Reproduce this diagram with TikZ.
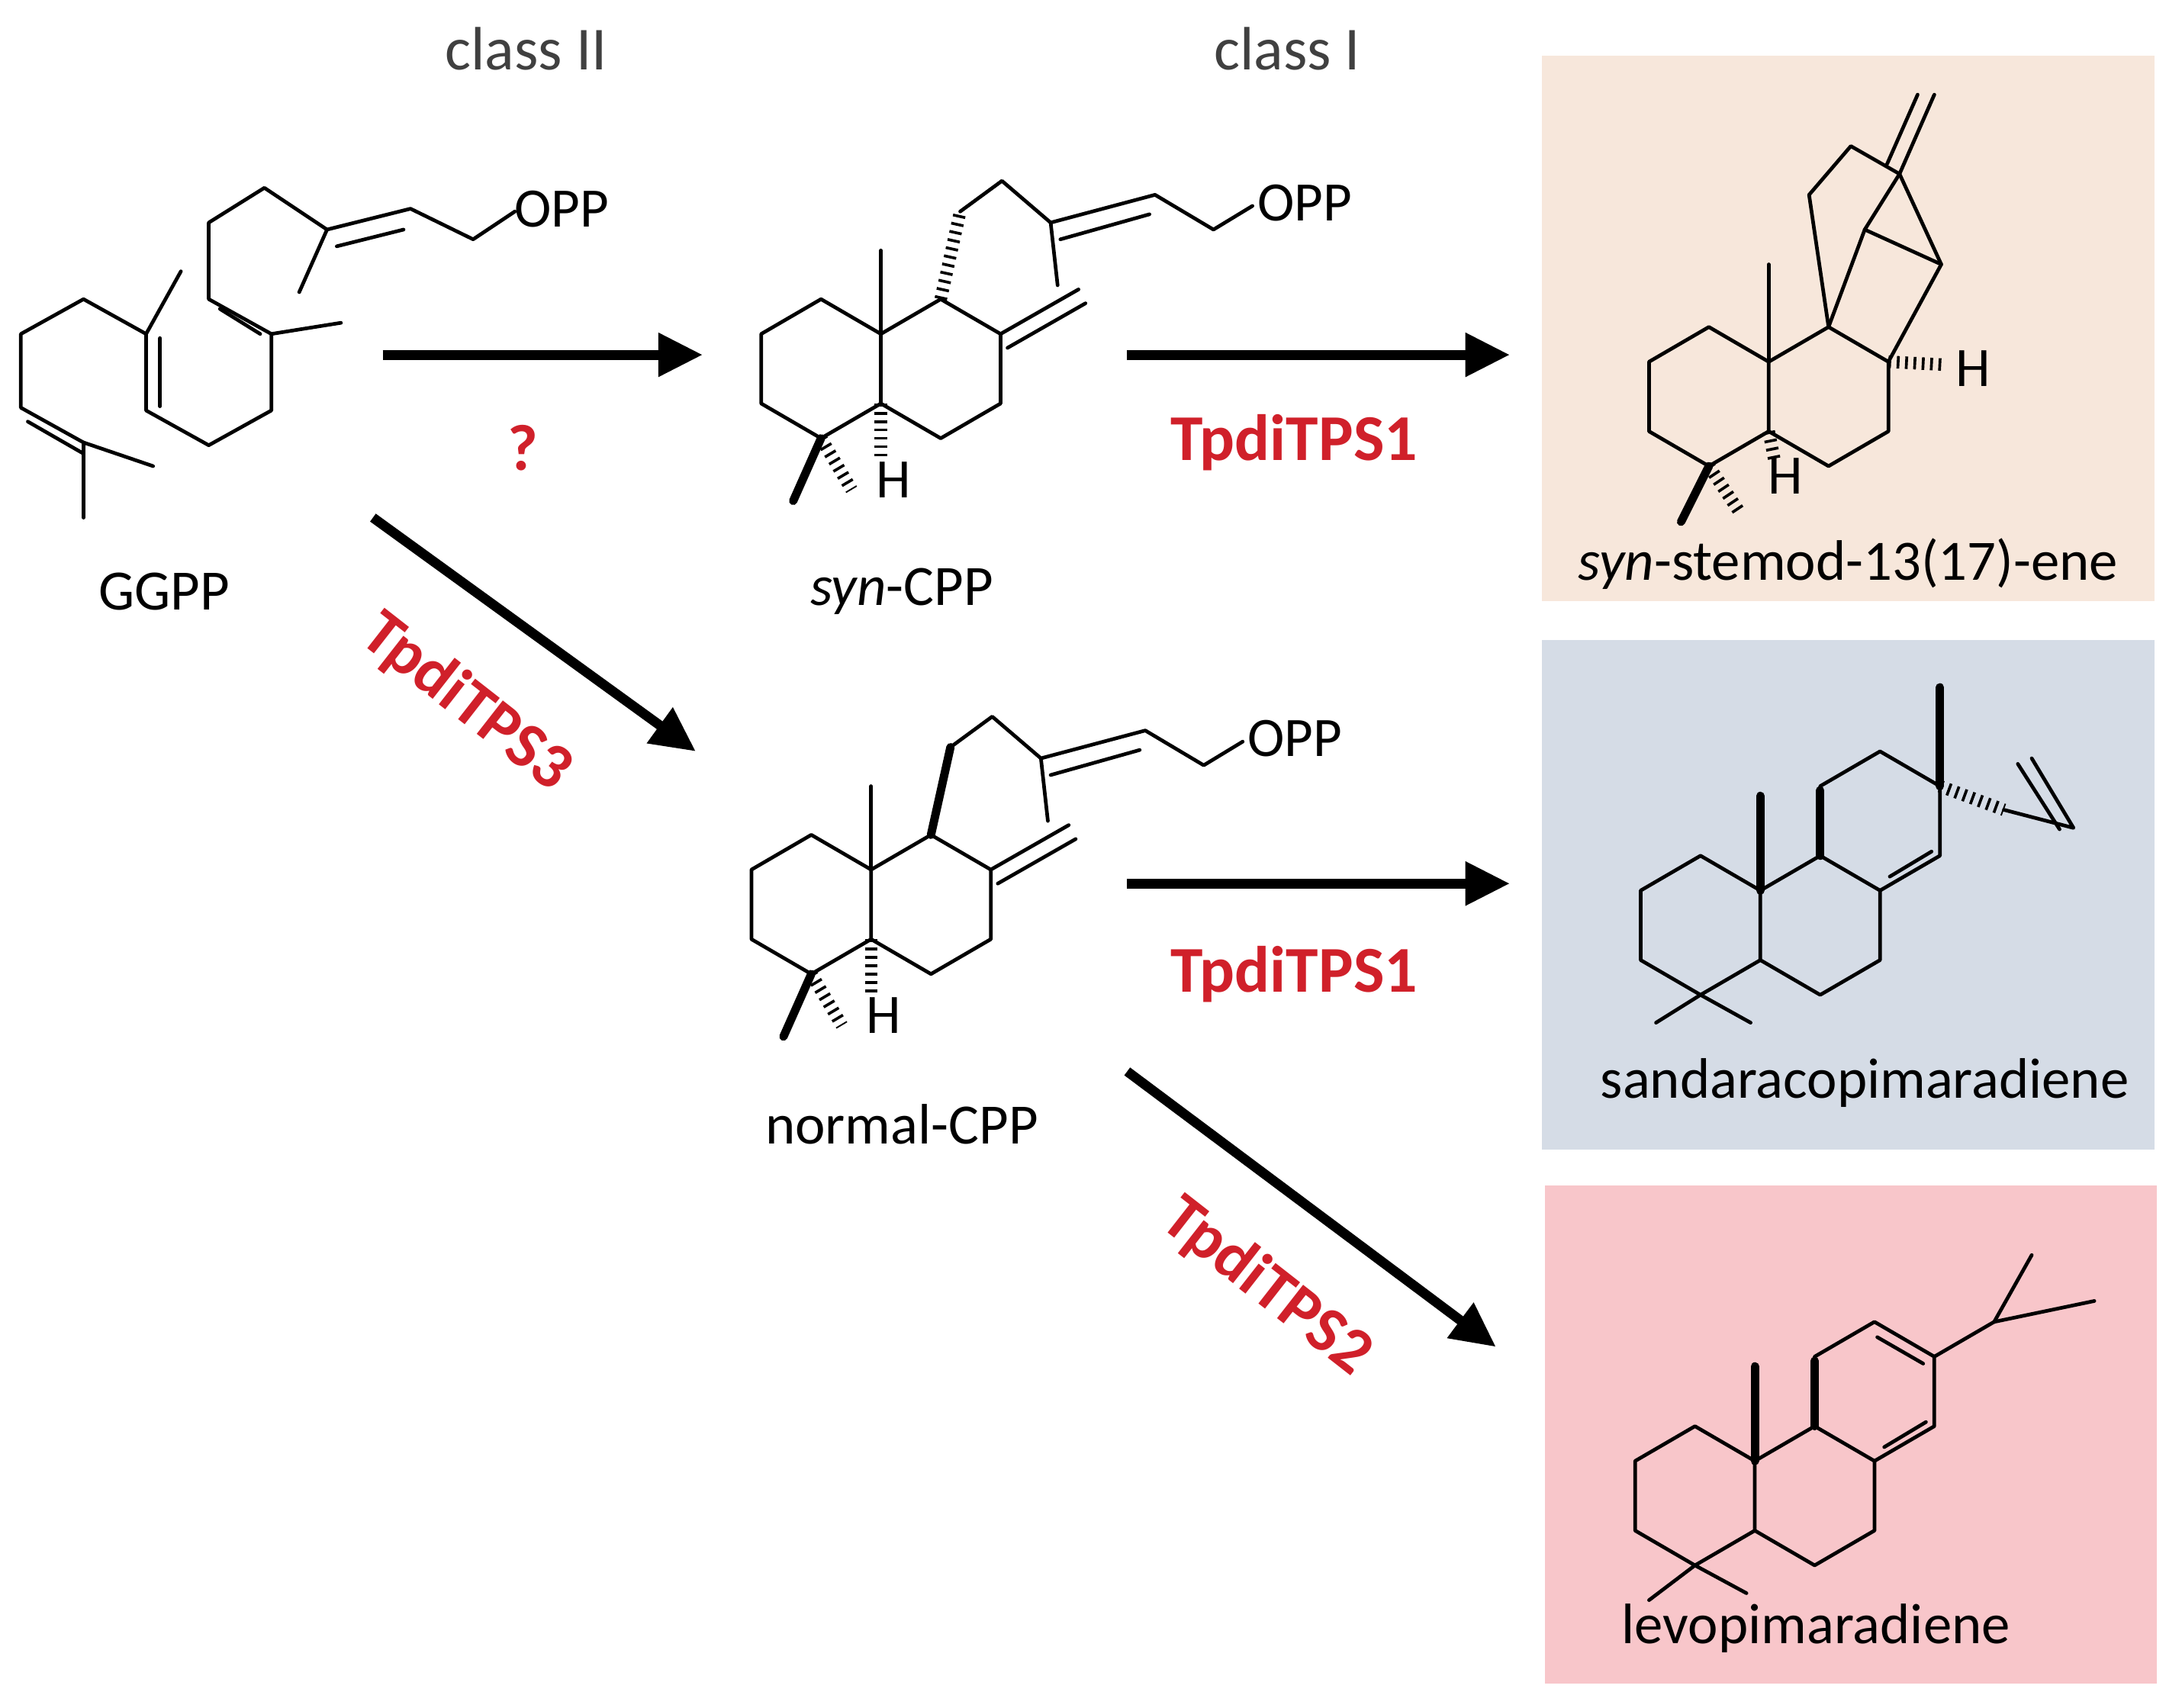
\documentclass[tikz,border=0pt]{standalone}
\usepackage{fontspec}
\setmainfont{Carlito}
\usetikzlibrary{arrows.meta,calc}
\definecolor{peach}{HTML}{F7E7DB}
\definecolor{greyblue}{HTML}{D5DCE6}
\definecolor{pinkbox}{HTML}{F8C6CA}
\definecolor{enz}{HTML}{D0202A}
\begin{document}
\begin{tikzpicture}[x=1pt,y=-1pt,
  bond/.style={line width=2.6pt,line join=round,line cap=round},
  hash/.style={line width=9pt,dash pattern=on 2pt off 4pt},
  bold/.style={line width=6pt,line cap=round},
  arr/.style={line width=7pt,-{Triangle[length=32pt,width=30pt]}},
  lab/.style={font=\fontsize{41}{48}\selectfont},
  atom/.style={font=\fontsize{40}{46}\selectfont},
  enzl/.style={font=\fontsize{47}{54}\selectfont\bfseries,text=enz}]
\useasboundingbox (0,0) rectangle (1568,1227);
\fill[white] (0,0) rectangle (1568,1227);
\fill[peach] (1108,40) rectangle (1548,432);
\fill[greyblue] (1108,460) rectangle (1548,826);
\fill[pinkbox] (1110,852) rectangle (1550,1210);
% labels
\node[lab,font=\fontsize{44}{50}\selectfont,text=black!75] (c2) at (378,35) {class II};
\node[lab,font=\fontsize{44}{50}\selectfont,text=black!75] (c1) at (925,35) {class I};
\node[lab] (ggpp) at (118,425) {GGPP};
\node[lab] (syn) at (648,425) {\textit{syn}-CPP};
\node[lab] (norm) at (648,808) {normal-CPP};
\node[lab] (stem) at (1328,405) {\textit{syn}-stemod-13(17)-ene};
\node[lab] (sand) at (1340,778) {sandaracopimaradiene};
\node[lab] (levo) at (1305,1170) {levopimaradiene};
\node[enzl] (q) at (376,322) {?};
\node[enzl] (e1) at (930,318) {TpdiTPS1};
\node[enzl] (e1b) at (930,700) {TpdiTPS1};
\node[enzl,rotate=-38] (e3) at (335,505) {TpdiTPS3};
\node[enzl,rotate=-38] (e2) at (910,925) {TpdiTPS2};
% arrows
\coordinate (a1s) at (275,255); \coordinate (a1e) at (505,255);
\coordinate (a2s) at (268,372); \coordinate (a2e) at (500,540);
\coordinate (a3s) at (810,255); \coordinate (a3e) at (1085,255);
\coordinate (a4s) at (810,635); \coordinate (a4e) at (1085,635);
\coordinate (a5s) at (810,770); \coordinate (a5e) at (1075,968);
\draw[arr] (a1s)--(a1e); \draw[arr] (a2s)--(a2e); \draw[arr] (a3s)--(a3e);
\draw[arr] (a4s)--(a4e); \draw[arr] (a5s)--(a5e);
% GGPP
\draw[bond] (110,335)--(60,318)--(15,293)--(15,240)--(60,215)--(105,240)--(105,295)--(150,320)--(195,295)--(195,240)--(150,215)--(150,160)--(190,135)--(235,165)--(295,150)--(340,172)--(370,152);
\draw[bond] (20,303)--(60,326);
\draw[bond] (60,318)--(60,372);
\draw[bond] (105,240)--(130,195);
\draw[bond] (115,243)--(115,292);
\draw[bond] (195,240)--(245,232);
\draw[bond] (158,222)--(187,240);
\draw[bond] (235,165)--(215,210);
\draw[bond] (242,177)--(290,165);
\node[atom,anchor=west] (opp0) at (366,150) {OPP};
% syn-CPP
\begin{scope}
\draw[bond] (590,215)--(633,240)--(633,290)--(590,315)--(547,290)--(547,240)--cycle;
\draw[bond] (633,240)--(676,215)--(719,240)--(719,290)--(676,315)--(633,290);
\draw[bond] (633,240)--(633,180);
\draw[hash] (676,215)--(690,152);
\draw[bond] (690,152)--(720,130)--(755,160)--(830,140)--(872,165)--(900,148);
\draw[bond] (762,172)--(826,154);
\draw[bond] (755,160)--(760,205);
\draw[bond] (719,240)--(775,208); \draw[bond] (724,250)--(780,218);
\draw[bold] (590,315)--(570,360);
\draw[hash] (590,315)--(612,352);
\draw[hash] (633,290)--(633,328);
\node[atom] (h1) at (642,345) {H};
\node[atom,anchor=west] (opp1) at (900,146) {OPP};
\end{scope}
% normal-CPP
\begin{scope}[shift={(-7,385)}]
\draw[bond] (590,215)--(633,240)--(633,290)--(590,315)--(547,290)--(547,240)--cycle;
\draw[bond] (633,240)--(676,215)--(719,240)--(719,290)--(676,315)--(633,290);
\draw[bond] (633,240)--(633,180);
\draw[bold] (676,215)--(690,152);
\draw[bond] (690,152)--(720,130)--(755,160)--(830,140)--(872,165)--(900,148);
\draw[bond] (762,172)--(826,154);
\draw[bond] (755,160)--(760,205);
\draw[bond] (719,240)--(775,208); \draw[bond] (724,250)--(780,218);
\draw[bold] (590,315)--(570,360);
\draw[hash] (590,315)--(612,352);
\draw[hash] (633,290)--(633,328);
\node[atom] (h2) at (642,345) {H};
\node[atom,anchor=west] (opp2) at (900,146) {OPP};
\end{scope}
% syn-stemodene
\draw[bond] (1228,235)--(1271,260)--(1271,310)--(1228,335)--(1185,310)--(1185,260)--cycle;
\draw[bond] (1271,260)--(1314,235)--(1357,260)--(1357,310)--(1314,335)--(1271,310);
\draw[bond] (1271,260)--(1271,190);
\draw[bond] (1314,235)--(1300,140)--(1330,105)--(1365,125)--(1395,190)--(1357,260);
\draw[bond] (1314,235)--(1340,165)--(1365,125);
\draw[bond] (1340,165)--(1395,190);
\draw[bond] (1365,125)--(1390,68); \draw[bond] (1356,118)--(1378,68);
\draw[hash] (1357,260)--(1395,262);
\node[atom] (h3) at (1418,265) {H};
\draw[hash] (1271,310)--(1275,330);
\node[atom] (h4) at (1283,342) {H};
\draw[bold] (1228,335)--(1208,375);
\draw[hash] (1228,335)--(1250,368);
% sandaracopimaradiene
\draw[bond] (1222,615)--(1265,640)--(1265,690)--(1222,715)--(1179,690)--(1179,640)--cycle;
\draw[bond] (1265,640)--(1308,615)--(1351,640)--(1351,690)--(1308,715)--(1265,690);
\draw[bond] (1308,615)--(1308,565)--(1351,540)--(1394,565)--(1394,615)--(1351,640);
\draw[bond] (1358,630)--(1388,612);
\draw[bold] (1265,640)--(1265,572);
\draw[bold] (1308,615)--(1308,568);
\draw[bold] (1394,565)--(1394,494);
\draw[hash] (1394,565)--(1440,582);
\draw[bond] (1440,582)--(1490,595)--(1460,545); \draw[bond] (1450,549)--(1480,596);
\draw[bond] (1222,715)--(1190,735); \draw[bond] (1222,715)--(1258,735);
% levopimaradiene
\draw[bond] (1218,1025)--(1261,1050)--(1261,1100)--(1218,1125)--(1175,1100)--(1175,1050)--cycle;
\draw[bond] (1261,1050)--(1304,1025)--(1347,1050)--(1347,1100)--(1304,1125)--(1261,1100);
\draw[bond] (1304,1025)--(1304,975)--(1347,950)--(1390,975)--(1390,1025)--(1347,1050);
\draw[bond] (1349,961)--(1382,980);
\draw[bond] (1354,1040)--(1384,1022);
\draw[bond] (1390,975)--(1433,950)--(1460,902); \draw[bond] (1433,950)--(1505,935);
\draw[bold] (1261,1050)--(1261,982);
\draw[bold] (1304,1025)--(1304,978);
\draw[bond] (1218,1125)--(1185,1150); \draw[bond] (1218,1125)--(1255,1145);
\end{tikzpicture}
\end{document}
